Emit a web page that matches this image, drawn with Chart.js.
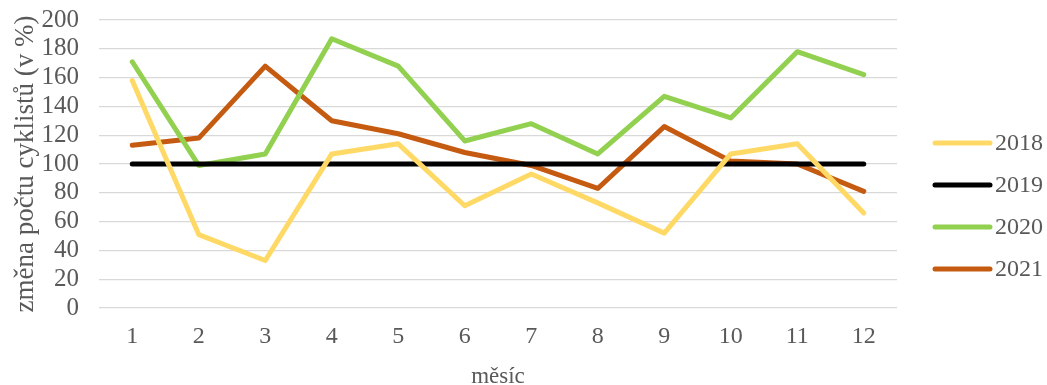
<!DOCTYPE html>
<html>
<head>
<meta charset="utf-8">
<script src="https://cdn.jsdelivr.net/npm/chart.js@4/dist/chart.umd.min.js"></script>
<style>
  html, body { margin: 0; padding: 0; background: #ffffff; }
  #wrap { width: 1047px; height: 385px; }
</style>
</head>
<body>
<div id="wrap"><canvas id="c" width="1047" height="385"></canvas></div>
<script>
// Months on the category axis
const months = ['1', '2', '3', '4', '5', '6', '7', '8', '9', '10', '11', '12'];

// Change in cyclist counts per month, relative to 2019 (= 100 %)
const y2018 = [158, 51, 33, 107, 114, 71, 93, 73, 52, 107, 114, 66];
const y2019 = [100, 100, 100, 100, 100, 100, 100, 100, 100, 100, 100, 100];
const y2020 = [171, 99, 107, 187, 168, 116, 128, 107, 147, 132, 178, 162];
const y2021 = [113, 118, 168, 130, 121, 108, 99, 83, 126, 102, 100, 81];

const seriesNames = ['2018', '2019', '2020', '2021'];
const seriesColors = ['#FFD966', '#000000', '#92D050', '#C55A11'];

const FONT = 'Liberation Serif, "Times New Roman", serif';
const TEXT = '#595959';

function makeDataset(i, values) {
  return {
    label: seriesNames[i],
    data: values,
    borderColor: seriesColors[i],
    backgroundColor: seriesColors[i],
    borderWidth: 5,
    borderCapStyle: 'round',
    borderJoinStyle: 'round',
    pointRadius: 0,
    pointHoverRadius: 0,
    tension: 0,
    fill: false
  };
}

// Legend drawn at the right: a short line sample followed by the year
const sideLegend = {
  id: 'sideLegend',
  afterDraw(chart) {
    const ctx = chart.ctx;
    const x0 = 935, x1 = 990, tx = 995;
    const startY = 143, step = 42;
    ctx.save();
    chart.data.datasets.forEach((ds, i) => {
      const y = startY + i * step;
      ctx.beginPath();
      ctx.lineCap = 'round';
      ctx.lineWidth = 5;
      ctx.strokeStyle = ds.borderColor;
      ctx.moveTo(x0, y);
      ctx.lineTo(x1, y);
      ctx.stroke();
      ctx.fillStyle = TEXT;
      ctx.font = '24px ' + FONT;
      ctx.textBaseline = 'middle';
      ctx.textAlign = 'left';
      ctx.fillText(ds.label, tx, y + 1);
    });
    ctx.restore();
  }
};

new Chart(document.getElementById('c'), {
  type: 'line',
  data: {
    labels: months,
    datasets: [
      makeDataset(0, y2018),
      makeDataset(1, y2019),
      makeDataset(2, y2020),
      makeDataset(3, y2021)
    ]
  },
  plugins: [sideLegend],
  options: {
    responsive: false,
    animation: false,
    devicePixelRatio: 1,
    layout: {
      padding: { top: 20, right: 150, bottom: 0, left: 0 }
    },
    plugins: {
      legend: { display: false },
      tooltip: { enabled: false }
    },
    scales: {
      x: {
        type: 'category',
        offset: true,
        grid: { display: false, drawTicks: false },
        border: { display: false },
        ticks: {
          color: TEXT,
          font: { family: FONT, size: 24 },
          padding: 14,
          maxRotation: 0,
          autoSkip: false
        },
        title: {
          display: true,
          text: 'měsíc',
          color: TEXT,
          font: { family: FONT, size: 23 },
          padding: { top: 0, bottom: -6 }
        },
        afterFit(scale) { scale.height = 77; }
      },
      y: {
        min: 0,
        max: 200,
        grid: {
          color: '#D9D9D9',
          lineWidth: 1.3,
          drawTicks: true,
          tickLength: 20,
          tickColor: 'rgba(0,0,0,0)'
        },
        border: { display: false },
        ticks: {
          stepSize: 20,
          autoSkip: false,
          color: TEXT,
          font: { family: FONT, size: 25 },
          padding: 0
        },
        title: {
          display: true,
          text: 'změna počtu cyklistů (v %)',
          color: TEXT,
          font: { family: FONT, size: 27 },
          padding: { top: 10, bottom: 0 }
        },
        afterFit(scale) { scale.width = 99; }
      }
    }
  }
});
</script>
</body>
</html>
